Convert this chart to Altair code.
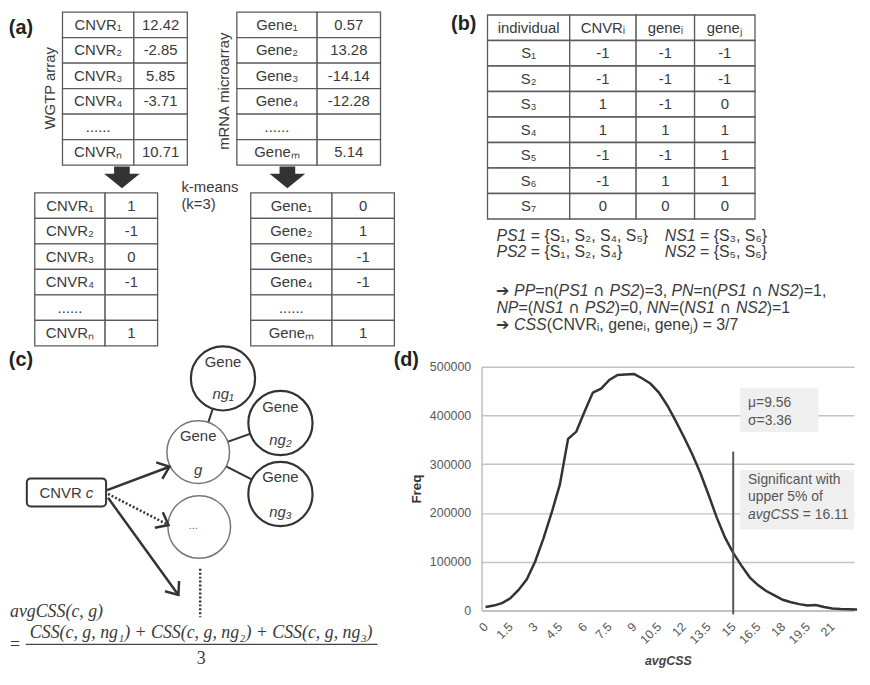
import math
import altair as alt
import pandas as pd

# ---------------- values ----------------
cnvr_names = ["CNVR₁", "CNVR₂", "CNVR₃", "CNVR₄", "......", "CNVRₙ"]
cnvr_values = ["12.42", "-2.85", "5.85", "-3.71", "", "10.71"]
cnvr_clusters = ["1", "-1", "0", "-1", "", "1"]
gene_names = ["Gene₁", "Gene₂", "Gene₃", "Gene₄", "......", "Geneₘ"]
gene_values = ["0.57", "13.28", "-14.14", "-12.28", "", "5.14"]
gene_clusters = ["0", "1", "-1", "-1", "", "1"]

b_header = ["individual", "CNVRᵢ", "geneᵢ", "geneⱼ"]
b_individuals = ["S₁", "S₂", "S₃", "S₄", "S₅", "S₆", "S₇"]
b_cnvr = ["-1", "-1", "1", "1", "-1", "-1", "0"]
b_gene_i = ["-1", "-1", "-1", "1", "-1", "1", "0"]
b_gene_j = ["-1", "-1", "0", "1", "1", "1", "0"]

css_bins = [0.0, 0.5, 1.0, 1.5, 2.0, 2.5, 3.0, 3.5, 4.0, 4.5, 5.0, 5.5, 6.0, 6.5,
            7.0, 7.5, 8.0, 8.5, 9.0, 9.5, 10.0, 10.5, 11.0, 11.5, 12.0, 12.5, 13.0,
            13.5, 14.0, 14.5, 15.0, 15.5, 16.0, 16.5, 17.0, 17.5, 18.0, 18.5, 19.0,
            19.5, 20.0, 20.5, 21.0, 21.5, 22.0, 22.5]
css_freq = [7000, 10000, 15000, 25000, 42000, 64000, 100000, 147000, 200000, 258000,
            352000, 367000, 408000, 447000, 455000, 473000, 483000, 484000, 485000,
            476000, 465000, 447000, 421000, 390000, 357000, 322000, 283000, 238000,
            191000, 150000, 118000, 92000, 68000, 52000, 40000, 31000, 22000, 17000,
            13000, 10000, 11000, 7000, 4000, 3000, 2500, 2000]
css_ticks = [0, 1.5, 3, 4.5, 6, 7.5, 9, 10.5, 12, 13.5, 15, 16.5, 18, 19.5, 21]
freq_ticks = [0, 100000, 200000, 300000, 400000, 500000]
mu, sigma = 9.56, 3.36
cut_line = 15
cut_value = 16.11

# ---------------- style / layout ----------------
FONT = "Liberation Sans"
SERIF = "Liberation Serif"
SYM = "DejaVu Sans"
INK = "#3a3a3a"
EDGE = "#5a5a5a"

LEFT_X = (10, 488); RIGHT_X = (488, 864)
ROW1 = (7, 370); ROW2 = (370, 621)
H1, H2 = 358, 246

AW = {' ': 278, '(': 333, ')': 333, ',': 278, '.': 278, '/': 278, '=': 584, '{': 334,
      '}': 334, '%': 889, '-': 333, 'A': 667, 'C': 722, 'N': 722, 'P': 667, 'R': 722,
      'S': 667, 'V': 667, 'G': 778, 'a': 556, 'c': 500, 'e': 556, 'g': 556, 'i': 222,
      'j': 222, 'n': 556, 'r': 333, 's': 500, 'v': 500, 'u': 556, 'p': 556, 'l': 222,
      'f': 278, 't': 278, 'h': 556, 'w': 722, 'o': 556, 'd': 556, 'm': 833,
      '∩': 760, '➔': 838, 'ᵢ': 300, 'ⱼ': 300, 'μ': 576, 'σ': 560}
for _d in "0123456789":
    AW[_d] = 556
for _d in "₀₁₂₃₄₅₆₇₈₉ₙₘ":
    AW[_d] = 420


def tw(s, size):
    return sum(AW.get(ch, 556) for ch in s) * size / 1000.0


def rich(segs, x, y, size, center=False):
    """segs: (text, style) with style 'n' regular, 'i' italic, 's' symbol font."""
    total = sum(tw(s, size) for s, _ in segs)
    cx = x - total / 2 if center else x
    out = {"n": [], "i": [], "s": []}
    for s, st in segs:
        lead = len(s) - len(s.lstrip(" "))
        t = s.strip(" ")
        if t:
            out[st].append(dict(x=cx + tw(" " * lead, size), y=y, t=t))
        cx += tw(s, size)
    return out


def frame(xr, yr, h):
    return dict(xs=alt.Scale(domain=list(xr), nice=False, zero=False),
                ys=alt.Scale(domain=list(yr), nice=False, zero=False, reverse=True),
                w=xr[1] - xr[0], h=h, sy=h / (yr[1] - yr[0]))


def XY(fr):
    return dict(x=alt.X("x:Q", scale=fr["xs"], axis=None),
                y=alt.Y("y:Q", scale=fr["ys"], axis=None))


def texts(fr, rows, **mk):
    st = dict(font=FONT, fontSize=15, color=INK, align="center", baseline="middle")
    st.update(mk)
    return alt.Chart(pd.DataFrame(rows)).mark_text(**st).encode(**XY(fr), text="t:N")


def rects(fr, rows, **mk):
    return alt.Chart(pd.DataFrame(rows)).mark_rect(**mk).encode(
        **XY(fr), x2="x2:Q", y2="y2:Q")


def rules(fr, rows, **mk):
    return alt.Chart(pd.DataFrame(rows)).mark_rule(**mk).encode(
        **XY(fr), x2="x2:Q", y2="y2:Q")


def points(fr, rows, **mk):
    enc = XY(fr)
    if "a" in rows[0]:
        enc["angle"] = alt.Angle("a:Q", scale=None)
    return alt.Chart(pd.DataFrame(rows)).mark_point(**mk).encode(**enc)


def table_rects(cols, top, rh, nrows):
    return [dict(x=cols[j], x2=cols[j + 1], y=top + i * rh, y2=top + (i + 1) * rh)
            for i in range(nrows) for j in range(len(cols) - 1)]


def table_texts(cols, top, rh, columns):
    out = []
    for j, col in enumerate(columns):
        for i, s in enumerate(col):
            if s:
                out.append(dict(x=(cols[j] + cols[j + 1]) / 2, y=top + (i + 0.5) * rh, t=s))
    return out


def rich_layers(fr, parts, size):
    layers = []
    if parts["n"]:
        layers.append(texts(fr, parts["n"], align="left", fontSize=size))
    if parts["i"]:
        layers.append(texts(fr, parts["i"], align="left", fontSize=size, fontStyle="italic"))
    if parts["s"]:
        layers.append(texts(fr, parts["s"], align="left", fontSize=size, font=SYM))
    return layers


cell_style = dict(fill="white", stroke=EDGE, strokeWidth=1.3)

# ---------------- panel (a) ----------------
fa = frame(LEFT_X, ROW1, H1)
tabs = [([65, 137, 191], 7, cnvr_names, cnvr_values),
        ([241, 322, 386], 7, gene_names, gene_values),
        ([37, 108, 161], 192, cnvr_names, cnvr_clusters),
        ([255, 337, 400], 192, gene_names, gene_clusters)]
a_cells, a_txt = [], []
for cols, top, names, vals in tabs:
    a_cells += table_rects(cols, top, 26.1, len(names))
    a_txt += table_texts(cols, top, 26.1, [names, vals])
block_arrow = "M-0.44,-0.6L0.44,-0.6L0.44,-0.2L1,-0.2L0,0.62L-1,-0.2L-0.44,-0.2Z"
panel_a = alt.layer(
    rects(fa, a_cells, **cell_style),
    texts(fa, a_txt),
    texts(fa, [dict(x=52, y=85, t="WGTP array"), dict(x=228, y=88, t="mRNA microarray")], angle=270),
    points(fa, [dict(x=125, y=176), dict(x=292, y=176)], shape=block_arrow, size=1296,
           filled=True, color="#333333", opacity=1, strokeWidth=0),
    texts(fa, [dict(x=185, y=186, t="k-means"), dict(x=185, y=203, t="(k=3)")], align="left"),
    texts(fa, [dict(x=23, y=23, t="(a)")], fontSize=20, fontWeight="bold", color="#222"),
).properties(width=fa["w"], height=fa["h"])

# ---------------- panel (b) ----------------
fb = frame(RIGHT_X, ROW1, H1)
b_cols = [494, 577, 644, 703, 764]
b_cells = table_rects(b_cols, 10, 26.1, 8)
b_txt = table_texts(b_cols, 10, 26.1,
                    [[b_header[0]] + b_individuals, [b_header[1]] + b_cnvr,
                     [b_header[2]] + b_gene_i, [b_header[3]] + b_gene_j])
lines_b = [
    ([("PS1", "i"), (" = {S₁, S₂, S₄, S₅}", "n")], 503, 236),
    ([("NS1", "i"), (" = {S₃, S₆}", "n")], 673, 236),
    ([("PS2", "i"), (" = {S₁, S₂, S₄}", "n")], 503, 253),
    ([("NS2", "i"), (" = {S₅, S₆}", "n")], 673, 253),
    ([("➔ ", "n"), ("PP", "i"), ("=n(", "n"), ("PS1", "i"), (" ∩ ", "s"),
      ("PS2", "i"), (")=3, ", "n"), ("PN", "i"), ("=n(", "n"), ("PS1", "i"),
      (" ∩ ", "s"), ("NS2", "i"), (")=1,", "n")], 503, 293),
    ([("NP", "i"), ("=(", "n"), ("NS1", "i"), (" ∩ ", "s"), ("PS2", "i"),
      (")=0, ", "n"), ("NN", "i"), ("=(", "n"), ("NS1", "i"), (" ∩ ", "s"),
      ("NS2", "i"), (")=1", "n")], 503, 310),
    ([("➔ ", "n"), ("CSS", "i"), ("(CNVRᵢ, geneᵢ, geneⱼ) = 3/7", "n")], 503, 327),
]
b_parts = {"n": [], "i": [], "s": []}
for segs, x, y in lines_b:
    p = rich(segs, x, y, 16)
    for k in b_parts:
        b_parts[k] += p[k]
panel_b = alt.layer(
    rects(fb, b_cells, **cell_style),
    texts(fb, b_txt),
    *rich_layers(fb, b_parts, 16),
    texts(fb, [dict(x=470, y=19, t="(b)")], fontSize=20, fontWeight="bold", color="#222"),
).properties(width=fb["w"], height=fb["h"])

# ---------------- panel (c) ----------------
fc = frame(LEFT_X, ROW2, H2)
nodes = {"ng1": (227, 382), "g": (202, 458), "ng2": (285, 428), "ng3": (285, 501), "dots": (203, 535)}
links = [("ng1", "g"), ("g", "ng2"), ("g", "ng3")]
c_links = [dict(x=nodes[a][0], y=nodes[a][1], x2=nodes[b][0], y2=nodes[b][1]) for a, b in links]
dark_nodes = [dict(x=nodes[k][0], y=nodes[k][1]) for k in ("ng1", "ng2", "ng3")]
light_nodes = [dict(x=nodes[k][0], y=nodes[k][1]) for k in ("g", "dots")]
gene_word = [dict(x=nodes[k][0], y=nodes[k][1] - 17, t="Gene") for k in ("ng1", "g", "ng2", "ng3")]
node_ids = [dict(x=nodes["ng1"][0], y=nodes["ng1"][1] + 16, t="ng₁"),
            dict(x=nodes["g"][0], y=nodes["g"][1] + 18, t="g"),
            dict(x=nodes["ng2"][0], y=nodes["ng2"][1] + 18, t="ng₂"),
            dict(x=nodes["ng3"][0], y=nodes["ng3"][1] + 19, t="ng₃")]
solid_arrows = [((110, 497), (173, 473)), ((111, 505), (182, 605))]
dotted_arrows = [((111, 501), (172, 533))]


def heads(arrs):
    out = []
    for (x1, y1), (x2, y2) in arrs:
        ang = math.degrees(math.atan2((y2 - y1) * fc["sy"], x2 - x1)) % 360
        out.append(dict(x=x2, y=y2, a=ang))
    return out


vhead = "M-1,-0.8L0,0L-1,0.8"
box_parts = rich([("CNVR ", "n"), ("c", "i")], 69, 500, 15, center=True)
panel_c = alt.layer(
    rules(fc, c_links, color="#333", strokeWidth=2),
    points(fc, dark_nodes, shape="circle", size=4200, filled=True, fill="white",
           stroke="#333", strokeWidth=2.2, opacity=1),
    points(fc, light_nodes, shape="circle", size=4000, filled=True, fill="white",
           stroke="#777", strokeWidth=1.5, opacity=1),
    texts(fc, gene_word),
    texts(fc, node_ids, fontStyle="italic"),
    texts(fc, [dict(x=197, y=534, t="...")], fontSize=11, color="#666"),
    rects(fc, [dict(x=29, x2=109, y=485, y2=514)], fill="white", stroke="#333",
          strokeWidth=2, cornerRadius=4),
    *rich_layers(fc, box_parts, 15),
    rules(fc, [dict(x=a[0], y=a[1], x2=b[0], y2=b[1]) for a, b in solid_arrows],
          color="#333", strokeWidth=2.5),
    rules(fc, [dict(x=a[0], y=a[1], x2=b[0], y2=b[1]) for a, b in dotted_arrows],
          color="#333", strokeWidth=2.5, strokeDash=[2, 2]),
    rules(fc, [dict(x=204, y=578, x2=204, y2=628)], color="#333", strokeWidth=2.5,
          strokeDash=[2, 2]),
    points(fc, heads(solid_arrows + dotted_arrows), shape=vhead, size=484, filled=False,
           stroke="#333", strokeWidth=2.5, opacity=1),
    texts(fc, [dict(x=12, y=623, t="avgCSS(c, g)")], font=SERIF, fontSize=18,
          fontStyle="italic", align="left"),
    texts(fc, [dict(x=12, y=657, t="=")], font=SERIF, fontSize=18, align="left"),
    texts(fc, [dict(x=205, y=644, t="CSS(c, g, ng₁) + CSS(c, g, ng₂) + CSS(c, g, ng₃)")],
          font=SERIF, fontSize=18, fontStyle="italic"),
    rules(fc, [dict(x=28, y=656, x2=383, y2=656)], color="#444", strokeWidth=1.2),
    texts(fc, [dict(x=205, y=671, t="3")], font=SERIF, fontSize=18),
    texts(fc, [dict(x=23, y=363, t="(c)"), dict(x=412, y=363, t="(d)")], fontSize=20,
          fontWeight="bold", color="#222"),
).properties(width=fc["w"], height=fc["h"])

# ---------------- panel (d) ----------------
PX0 = 492.0
PXU = 350 / 21.0


def vx(px):
    return (px - PX0) / PXU


def fy(py):
    return (621 - py) * 2000


xD = alt.Scale(domain=[vx(RIGHT_X[0]), vx(RIGHT_X[1])], nice=False, zero=False)
yD = alt.Scale(domain=[0, 500000], nice=False, zero=True)
ax_x = alt.Axis(values=css_ticks, labelExpr="'' + datum.value", labelAngle=315,
                labelAlign="right", labelBaseline="middle", labelPadding=14,
                labelFont=FONT, labelFontSize=12.5, labelColor="#555", ticks=False,
                grid=False, domainColor="#bdbdbd", domainWidth=1.5, labelOverlap=False,
                labelFlush=False, title="avgCSS", titleFont=FONT, titleFontSize=12.5,
                titleFontStyle="italic", titleFontWeight="bold", titleColor="#444",
                titlePadding=9)
ax_y = alt.Axis(values=freq_ticks, format="d", labelFont=FONT, labelFontSize=12.5,
                labelColor="#555", labelPadding=11, ticks=False, grid=True,
                gridColor="#c4c4c4", gridWidth=1.5, domainColor="#bdbdbd", domainWidth=1.5,
                title="Freq", titleFont=FONT, titleFontSize=13.5, titleFontWeight="bold",
                titleColor="#333", titlePadding=6)


def DXY():
    return dict(x=alt.X("v:Q", scale=xD, axis=ax_x), y=alt.Y("f:Q", scale=yD, axis=ax_y))


d_boxes = pd.DataFrame([dict(v=vx(749), v2=vx(828), f=fy(393), f2=fy(438)),
                        dict(v=vx(749), v2=vx(RIGHT_X[1]), f=fy(477), f2=fy(538))])
d_line = pd.DataFrame(dict(v=css_bins, f=css_freq))
d_rule = pd.DataFrame([dict(v=cut_line, f=fy(458), f2=fy(625))])
d_reg_px = [(f"μ={mu}", 757, 408), (f"σ={sigma}", 757, 427),
            ("Significant with", 757, 487), ("upper 5% of", 757, 505)]
p5 = rich([("avgCSS", "i"), (f" = {cut_value}", "n")], 757, 523, 14)
d_reg = pd.DataFrame([dict(v=vx(x), f=fy(y), t=t) for t, x, y in d_reg_px] +
                     [dict(v=vx(d["x"]), f=fy(d["y"]), t=d["t"]) for d in p5["n"]])
d_ita = pd.DataFrame([dict(v=vx(d["x"]), f=fy(d["y"]), t=d["t"]) for d in p5["i"]])

panel_d = alt.layer(
    alt.Chart(d_boxes).mark_rect(fill="#efefef").encode(**DXY(), x2="v2:Q", y2="f2:Q"),
    alt.Chart(d_line).mark_line(color="#333", strokeWidth=2.5).encode(**DXY()),
    alt.Chart(d_rule).mark_rule(color="#555", strokeWidth=2).encode(**DXY(), y2="f2:Q"),
    alt.Chart(d_reg).mark_text(font=FONT, fontSize=14, color="#555", align="left",
                               baseline="middle").encode(**DXY(), text="t:N"),
    alt.Chart(d_ita).mark_text(font=FONT, fontSize=14, color="#555", align="left",
                               baseline="middle", fontStyle="italic").encode(**DXY(), text="t:N"),
).properties(width=RIGHT_X[1] - RIGHT_X[0], height=H2)

chart = alt.concat(panel_a, panel_b, panel_c, panel_d, columns=2, spacing=0,
                   bounds="flush").resolve_scale(
    x="independent", y="independent").properties(
    padding=0, background="white").configure_view(stroke=None)

chart.save("out.html", embed_options={"renderer": "svg", "actions": False})
